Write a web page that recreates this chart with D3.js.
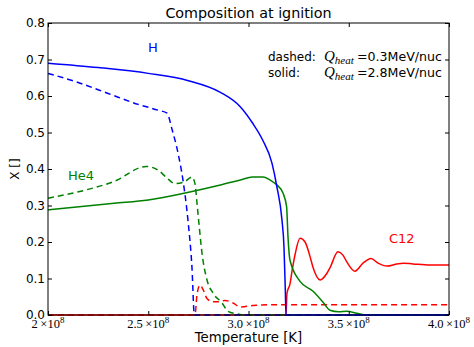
<!DOCTYPE html>
<html>
<head>
<meta charset="utf-8">
<script src="https://cdn.jsdelivr.net/npm/d3@7"></script>
<style>
  body { margin: 0; background: #fff; }
  text { font-family: "DejaVu Sans", sans-serif; }
</style>
</head>
<body>
<svg width="474" height="347"></svg>
<script>
// temperatures in units of 1e8 K, mass fractions X
const hSolid = [
    [2.0, 0.69], [2.25, 0.678], [2.5, 0.662], [2.7, 0.642], [2.86, 0.61],
    [2.96, 0.57], [3.02, 0.526], [3.07, 0.48], [3.117, 0.416], [3.142, 0.35],
    [3.167, 0.26], [3.177, 0.186], [3.184, 0.06], [3.187, 0.0], [4.0, 0.0]
];
const hDashed = [
    [2.0, 0.662], [2.15, 0.637], [2.3, 0.607], [2.45, 0.577], [2.55, 0.561],
    [2.594, 0.553], [2.618, 0.51], [2.648, 0.445], [2.673, 0.37], [2.698, 0.26],
    [2.718, 0.13], [2.73, 0.0], [4.0, 0.0]
];
const heSolid = [
    [2.0, 0.288], [2.33, 0.306], [2.5, 0.315], [2.69, 0.335], [2.86, 0.356],
    [2.96, 0.37], [3.02, 0.378], [3.072, 0.378], [3.107, 0.37], [3.142, 0.356],
    [3.172, 0.334], [3.19, 0.297], [3.197, 0.214], [3.207, 0.15], [3.257, 0.092],
    [3.322, 0.065], [3.372, 0.035], [3.406, 0.013], [3.45, 0.009], [3.49, 0.01],
    [3.54, 0.005], [3.59, 0.0], [4.0, 0.0]
];
const heDashed = [
    [2.0, 0.32], [2.17, 0.34], [2.33, 0.366], [2.49, 0.407], [2.549, 0.397],
    [2.594, 0.375], [2.633, 0.36], [2.678, 0.364], [2.718, 0.378], [2.733, 0.36],
    [2.743, 0.307], [2.753, 0.25], [2.768, 0.17], [2.793, 0.096], [2.823, 0.06],
    [2.868, 0.033], [2.898, 0.01], [2.943, 0.003], [2.98, 0.0], [4.0, 0.0]
];
const cSolid = [
    [2.0, 0.0], [3.187, 0.0], [3.192, 0.06], [3.207, 0.085], [3.217, 0.12],
    [3.232, 0.165], [3.257, 0.21], [3.282, 0.2], [3.307, 0.16], [3.322, 0.13],
    [3.357, 0.096], [3.392, 0.115], [3.407, 0.13], [3.446, 0.173], [3.471, 0.164],
    [3.491, 0.145], [3.531, 0.12], [3.571, 0.142], [3.611, 0.155], [3.646, 0.142],
    [3.691, 0.134], [3.741, 0.14], [3.771, 0.142], [3.82, 0.14], [3.905, 0.137],
    [4.0, 0.137]
];
const cDashed = [
    [2.0, 0.0], [2.733, 0.0], [2.743, 0.055], [2.758, 0.082], [2.773, 0.07],
    [2.793, 0.045], [2.823, 0.036], [2.848, 0.036], [2.883, 0.04], [2.923, 0.033],
    [2.958, 0.022], [3.022, 0.026], [3.122, 0.028], [4.0, 0.028]
];

const xTicks = [2.0, 2.5, 3.0, 3.5, 4.0];
const yTicks = [0.0, 0.1, 0.2, 0.3, 0.4, 0.5, 0.6, 0.7, 0.8];

const series = [
    { data: cSolid, color: '#ff0000', dash: null },
    { data: cDashed, color: '#ff0000', dash: '6,4' },
    { data: heSolid, color: '#008000', dash: null },
    { data: heDashed, color: '#008000', dash: '6,4' },
    { data: hSolid, color: '#0000ff', dash: null },
    { data: hDashed, color: '#0000ff', dash: '6,4' }
];

const marginLeft = 48, marginRight = 25, marginTop = 23, marginBottom = 32;
const width = 474, height = 347;
const serif = '"Liberation Serif", "Times New Roman", serif';

const x = d3.scaleLinear().domain([2.0, 4.0]).range([marginLeft, width - marginRight]);
const y = d3.scaleLinear().domain([0, 0.8]).range([height - marginBottom, marginTop]);

const svg = d3.select('svg');

svg.append('defs').append('clipPath').attr('id', 'clip')
    .append('rect')
    .attr('x', marginLeft).attr('y', marginTop - 2)
    .attr('width', width - marginLeft - marginRight)
    .attr('height', height - marginTop - marginBottom + 4);

const line = d3.line()
    .x(d => x(d[0]))
    .y(d => y(d[1]))
    .curve(d3.curveMonotoneX);

svg.append('g').attr('clip-path', 'url(#clip)')
    .selectAll('path')
    .data(series)
    .join('path')
    .attr('d', d => line(d.data))
    .attr('fill', 'none')
    .attr('stroke', d => d.color)
    .attr('stroke-width', 1.5)
    .attr('stroke-dasharray', d => d.dash);

// inside ticks on all four sides (matplotlib classic)
const tickLen = 4;
const fmtX = d => (d === 2 ? '2' : d.toFixed(1));

svg.append('g')
    .attr('transform', `translate(0,${height - marginBottom})`)
    .call(d3.axisBottom(x).tickValues(xTicks).tickSize(-tickLen).tickFormat(''))
    .call(g => g.select('.domain').remove());
svg.append('g')
    .attr('transform', `translate(0,${marginTop})`)
    .call(d3.axisTop(x).tickValues(xTicks).tickSize(-tickLen).tickFormat(''))
    .call(g => g.select('.domain').remove());
svg.append('g')
    .attr('transform', `translate(${marginLeft},0)`)
    .call(d3.axisLeft(y).tickValues(yTicks).tickSize(-tickLen).tickFormat(''))
    .call(g => g.select('.domain').remove());
svg.append('g')
    .attr('transform', `translate(${width - marginRight},0)`)
    .call(d3.axisRight(y).tickValues(yTicks).tickSize(-tickLen).tickFormat(''))
    .call(g => g.select('.domain').remove());

svg.append('rect')
    .attr('x', marginLeft).attr('y', marginTop)
    .attr('width', width - marginLeft - marginRight)
    .attr('height', height - marginTop - marginBottom)
    .attr('fill', 'none').attr('stroke', '#000').attr('stroke-width', 1);

// y tick labels
svg.append('g').selectAll('text')
    .data(yTicks)
    .join('text')
    .attr('x', marginLeft - 3)
    .attr('y', d => y(d) + 4)
    .attr('text-anchor', 'end')
    .attr('font-size', 12)
    .text(d => d.toFixed(1));

// x tick labels, mathtext style
const xl = svg.append('g').selectAll('text')
    .data(xTicks)
    .join('text')
    .attr('x', d => x(d))
    .attr('y', height - marginBottom + 13)
    .attr('text-anchor', 'middle')
    .attr('font-size', 12.5)
    .style('font-family', serif);
xl.append('tspan').text(d => fmtX(d) + '\u2009\u00d710');
xl.append('tspan').attr('dy', -5).attr('font-size', 9).text('8');

svg.append('text')
    .attr('x', (marginLeft + width - marginRight) / 2)
    .attr('y', 18)
    .attr('text-anchor', 'middle')
    .attr('font-size', 14.3)
    .text('Composition at ignition');

svg.append('text')
    .attr('x', (marginLeft + width - marginRight) / 2)
    .attr('y', 342)
    .attr('text-anchor', 'middle')
    .attr('font-size', 13.3)
    .text('Temperature [K]');

svg.append('text')
    .attr('transform', 'translate(19,169) rotate(-90)')
    .attr('text-anchor', 'middle')
    .attr('font-size', 12)
    .text('X []');

// species labels
svg.append('text').attr('x', 148).attr('y', 52).attr('font-size', 13)
    .attr('fill', '#0000ff').text('H');
svg.append('text').attr('x', 68).attr('y', 180).attr('font-size', 13)
    .attr('fill', '#008000').text('He4');
svg.append('text').attr('x', 389).attr('y', 243).attr('font-size', 13)
    .attr('fill', '#ff0000').text('C12');

// legend notes
const notes = [
    { label: 'dashed:', q: '0.3', yy: 61 },
    { label: 'solid:', q: '2.8', yy: 77 }
];
notes.forEach(n => {
    svg.append('text').attr('x', 268).attr('y', n.yy).attr('font-size', 12).text(n.label);
    const t = svg.append('text').attr('x', 324).attr('y', n.yy).attr('font-size', 12.6);
    t.append('tspan').style('font-family', serif)
        .attr('font-style', 'italic').attr('font-size', 15).text('Q');
    t.append('tspan').style('font-family', serif)
        .attr('font-style', 'italic').attr('font-size', 11).attr('dy', 3).text('heat');
    t.append('tspan').attr('dy', -3).attr('x', 357).text('=' + n.q + 'MeV/nuc');
});
</script>
</body>
</html>
